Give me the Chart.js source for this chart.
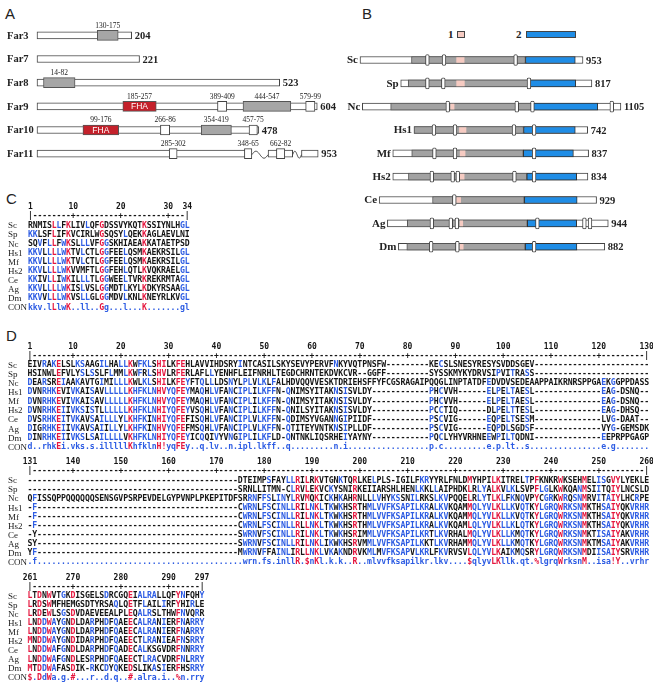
<!DOCTYPE html>
<html>
<head>
<meta charset="utf-8">
<script src="https://cdn.jsdelivr.net/npm/chart.js@4.4.1/dist/chart.umd.min.js"></script>
<style>
  body { margin: 0; background: #fff; }
  #page { position: relative; width: 653px; height: 685px; overflow: hidden; background: #fff; }
  canvas { position: absolute; }
  .panel { position: absolute; font: 15px "Liberation Sans", Arial, sans-serif; line-height: 15px; color: #222; }
  .leg { position: absolute; font: bold 11px "Liberation Serif", serif; line-height: 11px; color: #222; }
  .key { position: absolute; border: 1px solid #444; box-sizing: border-box; }
</style>
</head>
<body>
<div id="page">
  <div class="panel" style="left:5px;top:6px">A</div>
  <div class="panel" style="left:362px;top:6px">B</div>
  <div class="panel" style="left:6px;top:191px">C</div>
  <div class="panel" style="left:6px;top:328px">D</div>

  <div class="leg" style="left:448px;top:29px">1</div>
  <div class="key" style="left:457px;top:31px;width:8px;height:7px;background:#f6cbc2"></div>
  <div class="leg" style="left:516px;top:29px">2</div>
  <div class="key" style="left:526px;top:31px;width:50px;height:7px;background:#1f8de6"></div>

  <canvas id="farChart" width="345" height="180" style="left:0;top:0"></canvas>
  <canvas id="orthoChart" width="313" height="270" style="left:340px;top:0"></canvas>
  <canvas id="motifChart" width="330" height="118" style="left:0;top:198px"></canvas>
  <canvas id="alnOne" width="653" height="118" style="left:0;top:338px"></canvas>
  <canvas id="alnTwo" width="653" height="116" style="left:0;top:454px"></canvas>
  <canvas id="alnThree" width="653" height="117" style="left:0;top:568px"></canvas>
</div>

<script>
// ---------- panel A : Far proteins (aa positions) ----------
const farNames = ['Far3', 'Far7', 'Far8', 'Far9', 'Far10', 'Far11'];
const farLength = [204, 221, 523, 604, 478, 953];
// Far11 is drawn with two breaks, so its segments are in drawn units
const farBody = [[[0, 204]], [[0, 221]], [[0, 523]], [[0, 604]], [[0, 478]], [[0, 463], [498, 551], [570, 606]]];
const farBreaks = [[], [], [], [], [], [[463, 498], [551, 570]]];

const grayRow = ['Far3', 'Far8', 'Far9', 'Far10'];
const grayRange = [[130, 175], [14, 82], [444, 547], [354, 419]];
const grayText = ['130-175', '14-82', '444-547', '354-419'];

const fhaRow = ['Far9', 'Far10'];
const fhaRange = [[185, 257], [99, 176]];
const fhaText = ['185-257', '99-176'];

const tmRow = ['Far9', 'Far9', 'Far10', 'Far10', 'Far11', 'Far11', 'Far11'];
const tmRange = [[389, 409], [579, 599], [266, 286], [457, 475], [285, 302], [447, 463], [516, 534]];
const tmText = ['389-409', '579-99', '266-86', '457-75', '285-302', '348-65', '662-82'];

// ---------- panel B : orthologues ----------
const spNames = ['Sc', 'Sp', 'Nc', 'Hs1', 'Mf', 'Hs2', 'Ce', 'Ag', 'Dm'];
const spLength = [953, 817, 1105, 742, 837, 834, 929, 944, 882];
const spShift = [0, 174, 10, 231, 140, 140, 82, 117, 164];
const spGray = [[220, 707], [32, 550], [121, 730], [0, 468], [81, 558], [67, 573], [228, 620], [85, 598], [36, 542]];
const spMotif1 = [[413, 445], [239, 272], [378, 392], [194, 222], [288, 309], [280, 305], [331, 348], [311, 322], [264, 277]];
const spMotif2 = [[707, 920], [550, 748], [730, 1006], [468, 689], [558, 772], [573, 786], [620, 846], [598, 809], [542, 763]];
const spTM = [[288, 359, 665], [114, 182, 548], [365, 660, 727, 1066], [85, 175, 427, 513], [178, 266, 604],
              [167, 256, 278, 520, 604], [321], [190, 271, 297, 641, 842, 866], [140, 252, 580]];

// ---------- panels C and D : alignments ----------
const seqNames = ['Sc', 'Sp', 'Nc', 'Hs1', 'Mf', 'Hs2', 'Ce', 'Ag', 'Dm', 'CON'];
const g = n => '-'.repeat(n);
const d = n => '.'.repeat(n);

const motifSeq = [
  'RNMISLLFKLIVLQFGDSSVYKQTKSSIYNLHGL',
  'KKLSFLIFKVCIRLWGSQSYLQEKKAGLAEVLNI',
  'SQVFLLFWKSLLLVFGGSKHIAEAKKATAETPSD',
  'KKVLLLLWKTVLCTLGGFEELQSMKAEKRSILGL',
  'KKVLLLLWKTVLCTLGGFEELQSMKAEKRSILGL',
  'KKVLLLLWKVVMFTLGGFEHLQTLKVQKRAELGL',
  'KKIVLLIWKILLLTLGGWEELTVRKREKRMTAGL',
  'KKVLLLLWKISLVSLGGMDTLKYLKDKYRSAAGL',
  'KKVVLLLWKVSLLGLGGMDVLKNLKNEYRLKVGL'
];
const motifCon = 'kkv.lLlwK..ll..Gg...l...K.......gl';
const motifTicks = [1, 10, 20, 30, 34];

const blockOneSeq = [
  'EIVRAKELSLKSAAGILHALLKWFKLSHILKFEHLAVVIHDSRYINTCASILSKYSEVYPERV' + 'FNKYVQTPNSFW' + g(9) + 'KECSLSNESYRESYSVDDSGEV' + g(24),
  'HSINWLEFVLYSLSSLFLMMLKWFRLSHVLRFERLAFLLYENHFLEIFNRHLTEGDCHRNTEK' + 'DVKCVR--GGFF' + g(9) + 'SYSSKMYKYDRVSIPVITRASS' + g(24),
  'DEARSREIAAKAVTGIMILLLKWLKLSHILKFEYFTQLLLDSNYLPLVLKLFALHDVQQVVE' + 'SKTDRIEHSFFYFCGSRAGAIPQQGLINPTATDFEDVDVSEDEAAPPAIKRNRSPPGAEKGGPPDASS',
  'DVNRHKEVIVKAISAVLLLLLKHFKLNHVYQFEYMAQHLVFANCIPLILKFFN-QNIMSYITA' + 'KNSISVLDY' + g(12) + 'PHCVVH' + g(6) + 'ELPELTAESL' + g(14) + 'EAG-DSNQ--',
  'DVNRHKEVIVKAISAVLLLLLKHFKLNHVYQFEYMAQHLVFANCIPLILKFFN-QNIMSYITA' + 'KNSISVLDY' + g(12) + 'PHCVVH' + g(6) + 'ELPELTAESL' + g(14) + 'EAG-DSNQ--',
  'DVNRHKEIIVKSISTLLLLLLKHFKLNHIYQFEYVSQHLVFANCIPLILKFFN-QNILSYITA' + 'KNSISVLDY' + g(12) + 'PCCTIQ' + g(6) + 'DLPELTTESL' + g(14) + 'EAG-DHSQ--',
  'DVSRHKEITVKAVSAILLLYLKHFKINHIYQFEFISQHLVFANCIPLVLKFFN-QDIMSYVGA' + 'NNGIPIIDF' + g(12) + 'PSCVIG' + g(6) + 'EQPELTSESM' + g(14) + 'LVG-DAAT--',
  'DIGRHKEIIVKAVSAIILLYLKHFKINHVYQFEFMSQHLVFANCIPLVLKFFN-QTITEYVNT' + 'KNSIPLLDF' + g(12) + 'PSCVIG' + g(6) + 'EQPDLSGDSF' + g(14) + 'VYG-GEMSDK',
  'DINRHKEIIVKSLSAILLLLVKHFKLNHIYQFEYICQQIVYVNGIPLILKFLD-QNTNKLIQ' + 'SRHEIYAYNY' + g(12) + 'PQCLYHYVRHNEEWPILTQDNI' + g(14) + 'EEPRPPGAGP'
];
const blockOneCon = 'd..rhkEi.vks.s.illlllKhfklnH!yqFEy..q.lv..n.ipl.lkff..q' + d(9) + 'n.i' + d(17) + 'p.c' + d(9) + 'e.p.lt..s' + d(15) + 'e.g' + d(7);
const blockOneTicks = [1, 10, 20, 30, 40, 50, 60, 70, 80, 90, 100, 110, 120, 130];

const blockTwoSeq = [
  g(44) + 'DTEIMPSFAYLLRILRKV' + 'TGNKTQRLKELPLS-IGILFKRYYRLFNLDMYHPILKITRELTPFKNKRWKSEHMELISGVYLYEKLE',
  g(44) + 'SRNLLITMN-CLRVLEKV' + 'CKYSNIRKEIIARSHLHENLKKLLAIPHDKLRLYALKVLKLSVPFLGLKWKQANMSIITQIYLNCSLD',
  'QFISSQPPQQQQQQSENSGVPSRPEVDELGYPVNPLPKEPITDFSRRNFFSLINYLRVMQKI' + 'CKHKAHRNLLLVHYKSSNILRKSLKVPQQELRLYTLKLFKNQVPYCGRKWRQSNMRVITAIYLHCRPE',
  '-F' + g(42) + 'CWRNLFSCINLLRILNKL' + 'TKWKHSRTHMLVVFKSAPILKRALKVKQAMMQLYVLKLLKVQTKYLGRQWRKSNMKTHSAIYQKVRHR',
  '-F' + g(42) + 'CWRNLFSCINLLRILNKL' + 'TKWKHSRTHMLVVFKSAPILKRALKVKQAMMQLYVLKLLKVQTKYLGRQWRKSNMKTHSAIYQKVRHR',
  '-F' + g(42) + 'CWRNLFSCINLLRLLNKL' + 'TKWKHSRTHMLVVFKSAPILKRALKVKQAMLQLYVLKLLKLQTKYLGRQWRKSNMKTHSAIYQKVRHR',
  '-Y' + g(42) + 'SWRNVFSCINLLRILNKL' + 'TKWKHSRIMMLVVFKSAPILKRTLKVRHALMQLYVLKLLKMQTKYLGRQWRKSNMKTISAIYAKVRHR',
  'SY' + g(42) + 'SWRNVFSCINLLRILNKL' + 'IKWKHSRVMMLVVFKSAPILKKTLKVRHAMMQLYVLKLLKMQTKYLGRQWRKSNMKTMSAIYAKVRHR',
  'YF' + g(42) + 'MWRNVFFAINLIRLLNKL' + 'VKAKNDRVKMLMVFKSAPVLKRLFKVRVSVLQLYVLKAIKMQSRYLGRQWRKSNMDIISAIYSRVRHR'
];
const blockTwoCon = '.f' + d(43) + 'wrn.fs.inllR.$nKl' + '.k.k..R..mlvvfksapilkr.lkv....$qlyvLKllk.qt.%lgrqWrksnM..isa!Y..vrhr';
const blockTwoTicks = [131, 140, 150, 160, 170, 180, 190, 200, 210, 220, 230, 240, 250, 260];

const blockThreeSeq = [
  'LTDNWVTGKDISGELSDRCGQEIALRALLQFYNFQHY',
  'LRDSWMFHEMGSDTYRSAQLQETFLAILIRFYHIRLE',
  'LRDEWLSGSDVDAEVEEALPLEQALRSLTHWFNVQRR',
  'LNDDWAYGNDLDARPHDFQAEECALRANIERFNARRY',
  'LNDDWAYGNDLDARPHDFQAEECALRANIERFNARRY',
  'MNDDWAYGNDIDARPHDFQAEECTLRANIEAFNSRRY',
  'LNDDWAFGNDLDARPHDFQADECALKSGVDRFNNRRY',
  'LNDDWAFGNDLESRPHDFQAEECTLRACVDRFNLRRY',
  'MTDDWAFASDIK-RKCDYQKEDSLIKASIERFHSRRY'
];
const blockThreeCon = '$.DdWa.g.#...r..d.q..#.alra.i..%n.rry';
const blockThreeTicks = [261, 270, 280, 290, 297];

// ---------- shared ----------
const RES_RED = '#e5173f', RES_BLUE = '#2d5ce3', INK = '#151515';
const ROW_PITCH = 9.1;
const serif = '"Liberation Serif", "Times New Roman", serif';
const mono = '"DejaVu Sans Mono", monospace';

Chart.defaults.animation = false;
Chart.defaults.responsive = false;
Chart.defaults.maintainAspectRatio = false;
Chart.defaults.devicePixelRatio = 1;
Chart.defaults.plugins.legend.display = false;
Chart.defaults.plugins.tooltip.enabled = false;

function toneFor(ch, con) {
  if (ch === '-' || !con || con === '.') return INK;
  const u = ch.toUpperCase();
  const groups = { '!': 'IV', '$': 'LM', '%': 'FY', '#': 'NDQEBZ' };
  if (groups[con]) return groups[con].includes(u) ? RES_RED : INK;
  if (u !== con.toUpperCase()) return INK;
  return con === con.toUpperCase() ? RES_RED : RES_BLUE;
}
function conTone(ch) {
  if (ch === '.') return RES_BLUE;
  if ('!$%#'.includes(ch)) return RES_RED;
  return ch === ch.toUpperCase() ? RES_RED : RES_BLUE;
}

function rowPoints(names, ranges) {
  return names.map((n, i) => ({ y: n, x: ranges[i] }));
}

// ---------- panel A chart ----------
const farRowY = 35.3, farRowGap = 23.68;
const farBodyData = farBody.flatMap((segs, r) => segs.map(s => ({ y: farNames[r], x: s })));

const farLabels = {
  id: 'farLabels',
  afterDatasetsDraw(chart) {
    const { ctx, scales: { x, y } } = chart;
    ctx.save();
    // breaks of Far11
    ctx.strokeStyle = '#444';
    ctx.lineWidth = 1;
    farBreaks.forEach((brs, r) => {
      const yc = y.getPixelForValue(r);
      brs.forEach(([a, b]) => {
        const x1 = x.getPixelForValue(a), x2 = x.getPixelForValue(b);
        ctx.beginPath();
        for (let i = 0; i <= 20; i++) {
          const t = i / 20;
          const px = x1 + (x2 - x1) * t;
          const py = yc + 1 - 3.5 * Math.sin(t * Math.PI * 2);
          if (i === 0) ctx.moveTo(px, py); else ctx.lineTo(px, py);
        }
        ctx.stroke();
      });
    });
    // names and lengths
    ctx.fillStyle = '#222';
    ctx.textBaseline = 'middle';
    farNames.forEach((n, r) => {
      const yc = y.getPixelForValue(r) + 0.5;
      ctx.font = 'bold 10.5px ' + serif;
      ctx.textAlign = 'left';
      ctx.fillText(n, 7, yc);
      const segs = farBody[r];
      ctx.fillText(String(farLength[r]), x.getPixelForValue(segs[segs.length - 1][1]) + 3, yc + 0.5);
    });
    // domain range labels
    ctx.font = '7.5px ' + serif;
    ctx.textAlign = 'center';
    ctx.textBaseline = 'bottom';
    chart.data.datasets.forEach((ds, di) => {
      if (!ds.tags) return;
      chart.getDatasetMeta(di).data.forEach((el, i) => {
        const cx = (el.x + el.base) / 2;
        ctx.fillStyle = '#222';
        ctx.fillText(ds.tags[i], cx, el.y - el.height / 2 - 1);
        if (ds.inner) {
          ctx.save();
          ctx.font = '8.5px "Liberation Sans", Arial, sans-serif';
          ctx.fillStyle = '#fff';
          ctx.textBaseline = 'middle';
          ctx.fillText(ds.inner, cx, el.y + 0.5);
          ctx.restore();
        }
      });
    });
    ctx.restore();
  }
};

new Chart(document.getElementById('farChart'), {
  type: 'bar',
  data: {
    labels: farNames,
    datasets: [
      { label: 'transmembrane', data: rowPoints(tmRow, tmRange), tags: tmText, backgroundColor: '#fff',
        borderColor: '#444', borderWidth: 1, barThickness: 10, grouped: false, borderSkipped: false, order: 1 },
      { label: 'FHA', data: rowPoints(fhaRow, fhaRange), tags: fhaText, inner: 'FHA', backgroundColor: '#c4212b',
        borderColor: '#555', borderWidth: 1, barThickness: 10, grouped: false, borderSkipped: false, order: 2 },
      { label: 'coiled', data: rowPoints(grayRow, grayRange), tags: grayText, backgroundColor: '#a6a6a6',
        borderColor: '#555', borderWidth: 1, barThickness: 10, grouped: false, borderSkipped: false, order: 2 },
      { label: 'protein', data: farBodyData, backgroundColor: '#fff',
        borderColor: '#444', borderWidth: 1, barThickness: 7, grouped: false, borderSkipped: false, order: 4 }
    ]
  },
  options: {
    indexAxis: 'y',
    layout: { padding: { top: farRowY - farRowGap / 2, bottom: 180 - (farRowY - farRowGap / 2) - farRowGap * 6 } },
    scales: {
      x: { type: 'linear', display: false, min: -37 / 0.464, max: (345 - 37) / 0.464 },
      y: { type: 'category', display: false }
    }
  },
  plugins: [farLabels]
});

// ---------- panel B chart ----------
const spRowY = 60, spRowGap = 23.34;
const shifted = (arr) => arr.map((rg, r) => ({ y: spNames[r], x: [spShift[r] + rg[0], spShift[r] + rg[1]] }));
const tmData = spTM.flatMap((ps, r) => ps.map(p => ({ y: spNames[r], x: [spShift[r] + p - 8, spShift[r] + p + 8] })));

const orthoLabels = {
  id: 'orthoLabels',
  afterDatasetsDraw(chart) {
    const { ctx, scales: { x, y } } = chart;
    ctx.save();
    ctx.fillStyle = '#222';
    ctx.textBaseline = 'middle';
    spNames.forEach((n, r) => {
      const yc = y.getPixelForValue(r) + 0.5;
      ctx.font = 'bold 11px ' + serif;
      ctx.textAlign = 'right';
      ctx.fillText(n, x.getPixelForValue(spShift[r]) - 2, yc);
      ctx.font = 'bold 10.5px ' + serif;
      ctx.textAlign = 'left';
      ctx.fillText(String(spLength[r]), x.getPixelForValue(spShift[r] + spLength[r]) + 3, yc + 0.5);
    });
    ctx.restore();
  }
};

new Chart(document.getElementById('orthoChart'), {
  type: 'bar',
  data: {
    labels: spNames,
    datasets: [
      { label: 'TM', data: tmData, backgroundColor: '#fff', borderColor: '#444', borderWidth: 1,
        borderRadius: 1.5, barThickness: 11, grouped: false, borderSkipped: false, order: 1 },
      { label: 'motif 1', data: shifted(spMotif1), backgroundColor: '#f6cbc2', borderWidth: 0,
        barThickness: 5, grouped: false, order: 2 },
      { label: 'motif 2', data: shifted(spMotif2), backgroundColor: '#1f8de6', borderColor: '#333', borderWidth: 1,
        barThickness: 7, grouped: false, borderSkipped: false, order: 3 },
      { label: 'conserved', data: shifted(spGray), backgroundColor: '#a2a2a2', borderColor: '#555', borderWidth: 1,
        barThickness: 7, grouped: false, borderSkipped: false, order: 3 },
      { label: 'protein', data: spLength.map((L, r) => ({ y: spNames[r], x: [spShift[r], spShift[r] + L] })),
        backgroundColor: '#fff', borderColor: '#444', borderWidth: 1, barThickness: 7, grouped: false,
        borderSkipped: false, order: 5 }
    ]
  },
  options: {
    indexAxis: 'y',
    layout: { padding: { top: spRowY - spRowGap / 2, bottom: 270 - (spRowY - spRowGap / 2) - spRowGap * 9 } },
    scales: {
      x: { type: 'linear', display: false, min: -20 / 0.234, max: (313 - 20) / 0.234 },
      y: { type: 'category', display: false }
    }
  },
  plugins: [orthoLabels]
});

// ---------- alignment charts ----------
function alignmentChart(id, canvasTop, headerY, firstCol, seqs, cons, ticks, colPx, pitch) {
  const canvas = document.getElementById(id);
  const rows = seqs.concat([cons]);
  const lastCol = firstCol + cons.length - 1;
  const xMin = firstCol - colPx / pitch;
  const yMin = -2 - (headerY - canvasTop) / ROW_PITCH;

  const alignText = {
    id: 'alignText',
    afterDatasetsDraw(chart) {
      const { ctx, scales: { x, y } } = chart;
      ctx.save();
      ctx.textAlign = 'center';
      ctx.textBaseline = 'middle';
      ctx.font = 'bold 8px ' + mono;
      ctx.fillStyle = INK;
      ticks.forEach(t => ctx.fillText(String(t), x.getPixelForValue(t), y.getPixelForValue(-2)));
      for (let c = firstCol; c <= lastCol; c++) {
        const ch = (c === firstCol || c === lastCol) ? '|' : (c % 10 === 0 ? '+' : '-');
        ctx.fillText(ch, x.getPixelForValue(c), y.getPixelForValue(-1));
      }
      ctx.font = 'bold 8.2px ' + mono;
      chart.data.datasets.forEach((ds, r) => {
        const isCon = r === rows.length - 1;
        chart.getDatasetMeta(r).data.forEach((pt, i) => {
          const ch = ds.seq[i];
          ctx.fillStyle = isCon ? conTone(ch) : toneFor(ch, cons[i]);
          ctx.fillText(ch, pt.x, pt.y);
        });
      });
      ctx.textAlign = 'left';
      ctx.font = '9px ' + serif;
      ctx.fillStyle = '#222';
      seqNames.forEach((n, r) => ctx.fillText(n, 8, y.getPixelForValue(r) + 0.5));
      ctx.restore();
    }
  };

  new Chart(canvas, {
    type: 'scatter',
    data: {
      datasets: rows.map((s, r) => ({
        label: seqNames[r],
        seq: s,
        data: [...s].map((ch, i) => ({ x: firstCol + i, y: r })),
        pointRadius: 0,
        pointHoverRadius: 0
      }))
    },
    options: {
      scales: {
        x: { type: 'linear', display: false, min: xMin, max: xMin + canvas.width / pitch },
        y: { type: 'linear', display: false, reverse: true, min: yMin, max: yMin + canvas.height / ROW_PITCH }
      }
    },
    plugins: [alignText]
  });
}

alignmentChart('motifChart', 198, 207.3, 1, motifSeq, motifCon, motifTicks, 30.5, 4.75);
alignmentChart('alnOne', 338, 346.8, 1, blockOneSeq, blockOneCon, blockOneTicks, 30, 4.78);
alignmentChart('alnTwo', 454, 462.2, 131, blockTwoSeq, blockTwoCon, blockTwoTicks, 30, 4.78);
alignmentChart('alnThree', 568, 577.5, 261, blockThreeSeq, blockThreeCon, blockThreeTicks, 30, 4.78);
</script>
</body>
</html>
